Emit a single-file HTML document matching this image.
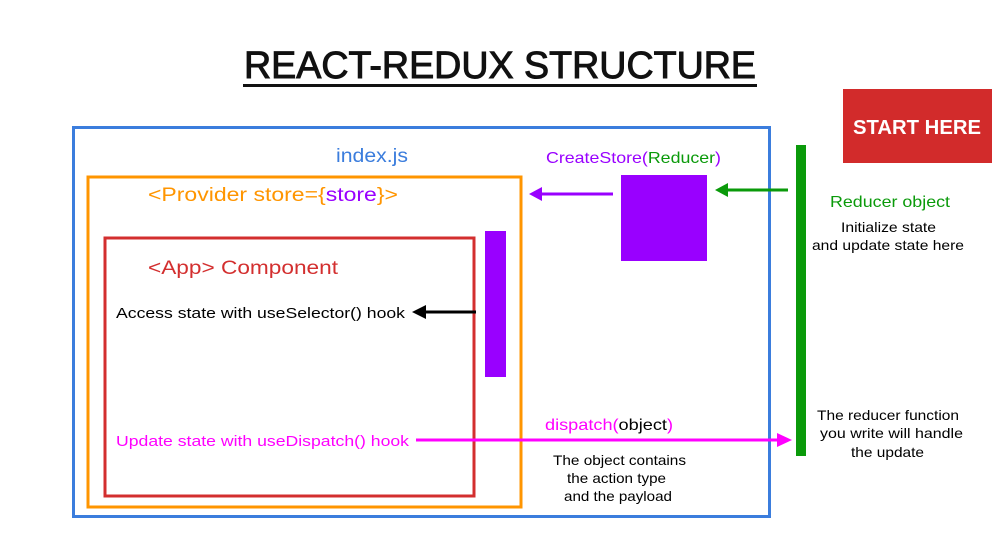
<!DOCTYPE html>
<html><head><meta charset="utf-8"><style>
html,body{margin:0;padding:0;background:#fff;width:1005px;height:548px;overflow:hidden}
svg{display:block}
text{font-family:"Liberation Sans",sans-serif}
</style></head><body>
<svg width="1005" height="548" viewBox="0 0 1005 548" xmlns="http://www.w3.org/2000/svg">
<text x="500" y="78" font-size="38" text-anchor="middle" fill="#111" stroke="#111" stroke-width="1" textLength="512" lengthAdjust="spacingAndGlyphs">REACT-REDUX STRUCTURE</text>
<rect x="243" y="84" width="514" height="3" fill="#111"/>

<rect x="73.5" y="127.5" width="696" height="389" fill="none" stroke="#3b7ddd" stroke-width="3"/>
<rect x="88" y="177" width="433" height="330" fill="none" stroke="#ff9500" stroke-width="3"/>
<rect x="105" y="238" width="369" height="258" fill="none" stroke="#d32f2f" stroke-width="3"/>

<rect x="485" y="231" width="21" height="146" fill="#9900ff"/>
<rect x="621" y="175" width="86" height="86" fill="#9900ff"/>
<rect x="796" y="145" width="10" height="311" fill="#0a9a0a"/>

<rect x="843" y="89" width="149" height="74" fill="#d22b2b"/>
<text x="917" y="134" font-size="20" font-weight="bold" fill="#fff" text-anchor="middle" textLength="128" lengthAdjust="spacingAndGlyphs">START HERE</text>

<line x1="613" y1="194" x2="540" y2="194" stroke="#9900ff" stroke-width="3"/>
<path d="M529,194 L542,187 L542,201Z" fill="#9900ff"/>
<line x1="788" y1="190" x2="726" y2="190" stroke="#0a9a0a" stroke-width="3"/>
<path d="M715,190 L728,183 L728,197Z" fill="#0a9a0a"/>
<line x1="476" y1="312" x2="424" y2="312" stroke="#000" stroke-width="3"/>
<path d="M412,312 L426,305 L426,319Z" fill="#000"/>
<line x1="416" y1="440" x2="778" y2="440" stroke="#ff00ff" stroke-width="3"/>
<path d="M792,440 L777,433 L777,447Z" fill="#ff00ff"/>

<text x="336" y="162" font-size="19" fill="#3b7ddd" textLength="72" lengthAdjust="spacingAndGlyphs">index.js</text>
<text x="148" y="201" font-size="19" fill="#ff9500" textLength="250" lengthAdjust="spacingAndGlyphs">&lt;Provider store={<tspan fill="#9900ff">store</tspan>}&gt;</text>
<text x="148" y="274" font-size="19" fill="#d32f2f" textLength="190" lengthAdjust="spacingAndGlyphs">&lt;App&gt; Component</text>
<text x="116" y="318" font-size="15" fill="#000" textLength="289" lengthAdjust="spacingAndGlyphs">Access state with useSelector() hook</text>
<text x="116" y="446" font-size="15" fill="#ff00ff" textLength="293" lengthAdjust="spacingAndGlyphs">Update state with useDispatch() hook</text>
<text x="546" y="163" font-size="16" fill="#9900ff" textLength="175" lengthAdjust="spacingAndGlyphs">CreateStore(<tspan fill="#0a9a0a">Reducer</tspan>)</text>
<text x="545" y="430" font-size="16" fill="#ff00ff" textLength="128" lengthAdjust="spacingAndGlyphs">dispatch(<tspan fill="#000">object</tspan>)</text>
<g font-size="14" fill="#000" lengthAdjust="spacingAndGlyphs">
<text x="553" y="465" textLength="133" lengthAdjust="spacingAndGlyphs">The object contains</text>
<text x="567" y="483" textLength="99" lengthAdjust="spacingAndGlyphs">the action type</text>
<text x="564" y="501" textLength="108" lengthAdjust="spacingAndGlyphs">and the payload</text>
<text x="841" y="232" textLength="95" lengthAdjust="spacingAndGlyphs">Initialize state</text>
<text x="812" y="250" textLength="152" lengthAdjust="spacingAndGlyphs">and update state here</text>
<text x="817" y="420" textLength="142" lengthAdjust="spacingAndGlyphs">The reducer function</text>
<text x="820" y="438" textLength="143" lengthAdjust="spacingAndGlyphs">you write will handle</text>
<text x="851" y="457" textLength="73" lengthAdjust="spacingAndGlyphs">the update</text>
</g>
<text x="890" y="207" font-size="16" fill="#0a9a0a" text-anchor="middle" textLength="120" lengthAdjust="spacingAndGlyphs">Reducer object</text>
</svg>
</body></html>
